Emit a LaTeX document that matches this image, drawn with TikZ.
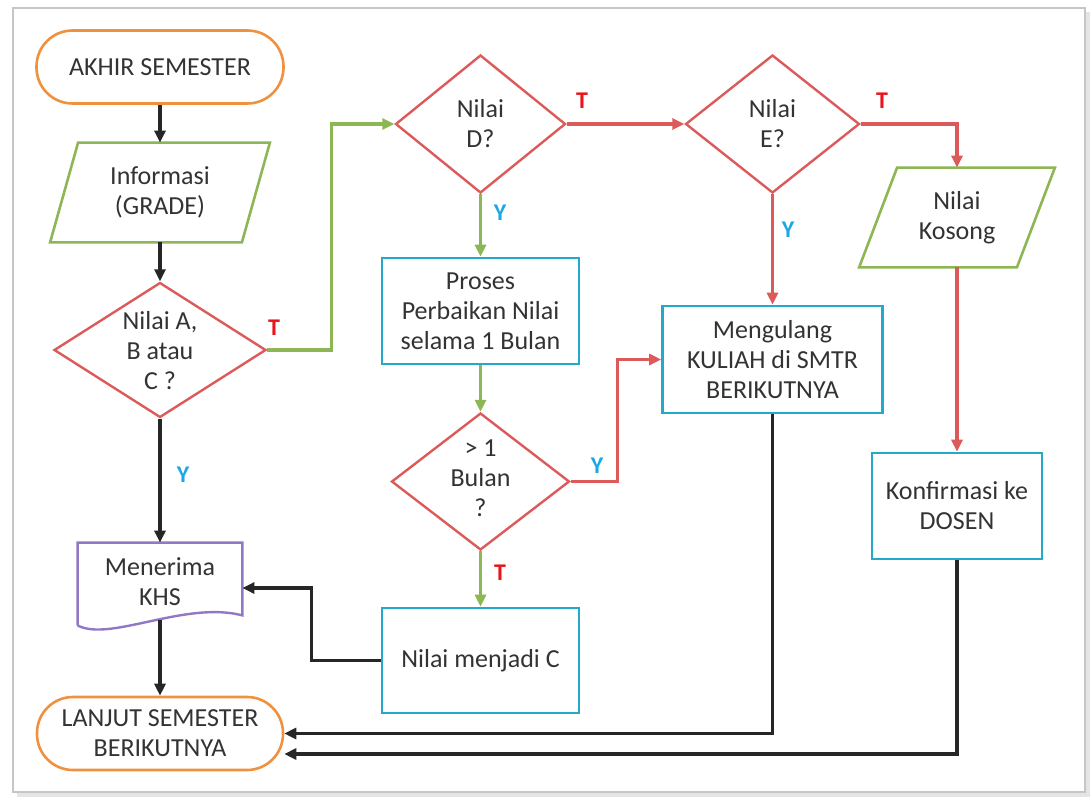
\documentclass[tikz,border=0pt]{standalone}
\usepackage{fontspec}
\setmainfont{Carlito}
\usetikzlibrary{shapes.geometric,arrows.meta,calc}
\definecolor{cOrange}{HTML}{F0913F}
\definecolor{cGreen}{HTML}{8DB654}
\definecolor{cRed}{HTML}{DD5A5A}
\definecolor{cBlue}{HTML}{25A9C8}
\definecolor{cPurple}{HTML}{9278C4}
\definecolor{cLblBlue}{HTML}{1AA7E6}
\definecolor{cLblRed}{HTML}{E8161B}
\definecolor{cText}{HTML}{333333}
\begin{document}
\begin{tikzpicture}[x=0.5pt,y=-0.5pt,
  base/.style={text=cText, font=\fontsize{13}{15}\selectfont, align=center, inner sep=0pt},
  term/.style={base, draw=cOrange, line width=1.3pt, rounded corners=18pt},
  procbox/.style={base, draw=cBlue, line width=1.3pt},
  dia/.style={diamond, draw=cRed, line width=1.2pt, inner sep=0pt},
  pline/.style={draw=cGreen, line width=1.3pt},
  docline/.style={draw=cPurple, line width=1.2pt},
  tip/.style={-{Triangle[length=6pt,width=5.5pt]}},
  cblack/.style={draw=black!85, line width=1.6pt, tip},
  cgreen/.style={draw=cGreen, line width=1.6pt, tip},
  cred/.style={draw=cRed, line width=1.6pt, tip},
  lblT/.style={text=cLblRed, font=\bfseries\fontsize{12}{13}\selectfont, inner sep=0pt},
  lblY/.style={text=cLblBlue, font=\bfseries\fontsize{12}{13}\selectfont, inner sep=0pt}
]
\useasboundingbox (0,0) rectangle (1090,797);
% frame
\draw[gray!20, line width=2pt] (17,795) -- (1088,795) -- (1088,12);
\draw[gray!45, line width=0.8pt] (13,8) rectangle (1085,792);

% left column
\node[term, minimum width=123.5pt, minimum height=36.5pt] (akhir) at (160,67) {AKHIR SEMESTER};
\node[base, minimum width=109.5pt, minimum height=49.5pt] (info) at (160,192.5) {Informasi\\(GRADE)};
\draw[pline] (info.south west) -- ($(info.north west)+(28,0)$) -- (info.north east) -- ($(info.south east)+(-28,0)$) -- cycle;
\node[dia, minimum width=106pt, minimum height=67.5pt] (abc) at (160,350) {};
\node[base] (abct) at (160,351) {Nilai A,\\B atau\\C ?};
\node[base, minimum width=82pt, minimum height=38.5pt] (khs) at (160,581.5) {Menerima\\KHS};
\draw[docline] ($(khs.south west)+(0,5)$) -- (khs.north west) -- (khs.north east) -- ($(khs.south east)+(0,-5)$) .. controls +(-57,-15) and +(32,17) .. ($(khs.south west)+(0,5)$);
\node[term, minimum width=123pt, minimum height=36.5pt] (lanjut) at (160,733.5) {LANJUT SEMESTER\\BERIKUTNYA};

% middle column
\node[dia, minimum width=85pt, minimum height=69pt] (nd) at (480.5,124) {};
\node[base] (ndt) at (480.5,124) {Nilai\\D?};
\node[procbox, minimum width=98.5pt, minimum height=53pt] (proses) at (480.5,311) {Proses\\Perbaikan Nilai\\selama 1 Bulan};
\node[dia, minimum width=89pt, minimum height=68.5pt] (bulan) at (480.5,481.5) {};
\node[base] (bulant) at (480.5,478) {> 1\\Bulan\\?};
\node[procbox, minimum width=98.5pt, minimum height=52.5pt] (nilaic) at (480.5,660.5) {Nilai menjadi C};

% right columns
\node[dia, minimum width=87pt, minimum height=69pt] (ne) at (772.5,124) {};
\node[base] (net) at (772.5,124) {Nilai\\E?};
\node[procbox, minimum width=110pt, minimum height=53.5pt] (meng) at (772.5,359.5) {Mengulang\\KULIAH di SMTR\\BERIKUTNYA};
\node[base, minimum width=97.5pt, minimum height=49.5pt] (kosong) at (957,217.5) {Nilai\\Kosong};
\draw[pline] (kosong.south west) -- ($(kosong.north west)+(38,0)$) -- (kosong.north east) -- ($(kosong.south east)+(-38,0)$) -- cycle;
\node[procbox, minimum width=85pt, minimum height=53pt] (konf) at (957,506) {Konfirmasi ke\\DOSEN};

% connectors
\draw[cblack] (akhir.south) -- (info.north);
\draw[cblack] (info.south) -- (abc.north);
\draw[cgreen] (abc.east) -- ++(64,0) |- (nd.west);
\draw[cred] (nd.east) -- (ne.west);
\draw[cred] (ne.east) -| (kosong.north);
\draw[cgreen] (nd.south) -- (proses.north);
\draw[cred] (ne.south) -- (meng.north);
\draw[cgreen] (proses.south) -- (bulan.north);
\draw[cred] (bulan.east) -- ++(46.5,0) |- (meng.west);
\draw[cgreen] (bulan.south) -- (nilaic.north);
\draw[cblack] (nilaic.west) -- ++(-69,0) |- ([yshift=-3.25pt]khs.east);
\draw[cblack] (abc.south) -- (khs.north);
\draw[cblack] (khs.south) -- (lanjut.north);
\draw[cblack] (meng.south) |- (lanjut.east);
\draw[cred] (kosong.south) -- (konf.north);
\draw[cblack] (konf.south) |- ([yshift=-10.25pt]lanjut.east);

% labels
\node[lblT] (t1) at (274,328) {T};
\node[lblT] (t2) at (582,101) {T};
\node[lblT] (t3) at (882,101) {T};
\node[lblT] (t4) at (500,573) {T};
\node[lblY] (y1) at (183,475) {Y};
\node[lblY] (y2) at (500,213) {Y};
\node[lblY] (y3) at (788,230) {Y};
\node[lblY] (y4) at (597,466) {Y};
\end{tikzpicture}
\end{document}
